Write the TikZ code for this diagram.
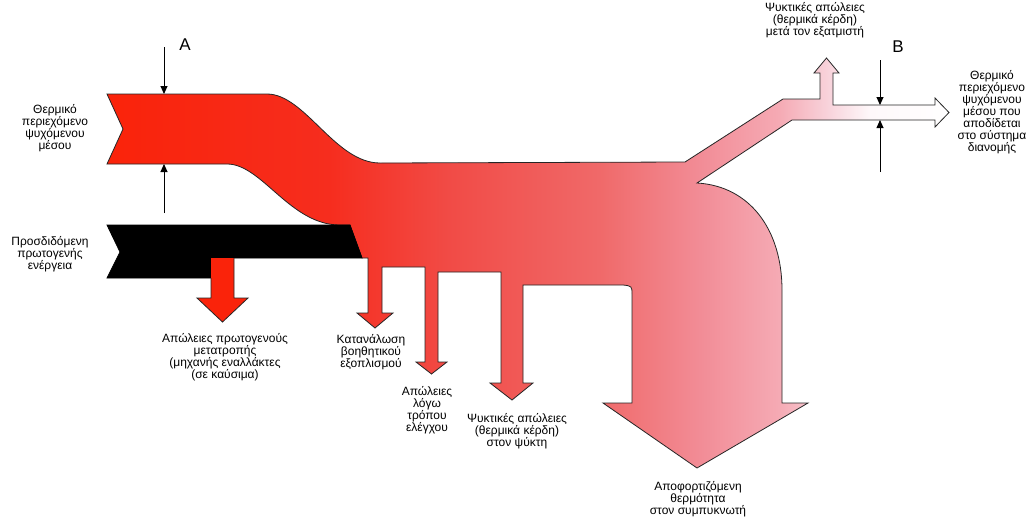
\documentclass[tikz,border=0pt]{standalone}
\usepackage{fontspec}
\setmainfont{Liberation Sans}
\usetikzlibrary{arrows.meta}
\definecolor{c0}{RGB}{250,35,10}
\definecolor{c1}{RGB}{246,45,30}
\definecolor{c2}{RGB}{241,75,70}
\definecolor{c3}{RGB}{240,105,105}
\definecolor{c4}{RGB}{242,140,150}
\definecolor{c5}{RGB}{245,170,180}
\definecolor{c6}{RGB}{248,212,220}
\definecolor{c7}{RGB}{254,248,250}
\pgfdeclarehorizontalshading{flowshade}{100bp}{color(0bp)=(c0); color(25bp)=(c0); color(38.2bp)=(c1); color(45.3bp)=(c2); color(54.2bp)=(c3); color(60.2bp)=(c4); color(64.9bp)=(c5); color(67.9bp)=(c6); color(70.3bp)=(c7); color(75bp)=(white); color(100bp)=(white)}
\begin{document}
\begin{tikzpicture}[x=1pt,y=-1pt,
  lbl/.style={align=center, font=\fontsize{12}{12}\selectfont, inner sep=0pt},
  letter/.style={font=\fontsize{17}{17}\selectfont, inner sep=0pt},
  marker/.style={line width=0.9pt, -{Triangle[length=8pt,width=7pt]}},
  outline/.style={draw=black!85, line width=0.8pt, line join=miter}]
\useasboundingbox[fill=white] (0,0) rectangle (1029,523);

% main flow (red -> pink -> white)
\path[outline, shading=flowshade]
  (107,94) -- (267,94) .. controls (305,94) and (335,163) .. (380,163)
  -- (685,162) -- (783,99) -- (820,99)
  -- (820,73) -- (814,73) -- (826.5,58) -- (839,73) -- (833,73) -- (833,105)
  -- (935,105) -- (935,98) -- (949,112.5) -- (935,127) -- (935,120)
  -- (792,120) -- (697,183) .. controls (750,186) and (782,230) .. (782,290)
  -- (782,403) -- (808,403) -- (697,468) -- (603,403) -- (632,403)
  -- (632,295) .. controls (632,286) .. (623,285)
  -- (523,285) -- (523,383) -- (533,383) -- (512,400) -- (490,383) -- (501,383)
  -- (501,272) -- (438,272) -- (438,362) -- (447,362) -- (431.5,374) -- (416,362) -- (425,362)
  -- (425,267) -- (382,267) -- (382,313) -- (393,313) -- (375,328) -- (357,313) -- (368,313)
  -- (368,258) -- (362,258) -- (350,225) -- (340,225)
  .. controls (290,225) and (262,164) .. (227,164)
  -- (107,164) -- (123,129) -- cycle;

% primary energy (black band)
\path[draw=black, fill=black, line width=0.8pt]
  (107,225) -- (350,225) -- (362,258) -- (211,258) -- (211,278) -- (107,278) -- (120,252) -- cycle;

% primary conversion loss arrow
\fill[c0] (211,258) -- (211,298) -- (197,298) -- (222.5,322) -- (248,298) -- (234,298) -- (234,258) -- cycle;
\draw[black!85, line width=0.8pt] (211,278) -- (211,298) -- (197,298) -- (222.5,322) -- (248,298) -- (234,298) -- (234,258);

% labels
\node[lbl] (tin) at (55,128) {Θερμικό\\περιεχόμενο\\ψυχόμενου\\μέσου};
\node[lbl] (ein) at (50,254) {Προσδιδόμενη\\πρωτογενής\\ενέργεια};
\node[lbl] (lconv) at (225,357) {Απώλειες πρωτογενούς\\μετατροπής\\(μηχανής εναλλάκτες\\(σε καύσιμα)};
\node[lbl] (aux) at (371,352) {Κατανάλωση\\βοηθητικού\\εξοπλισμού};
\node[lbl] (ctrl) at (427,410) {Απώλειες\\λόγω\\τρόπου\\ελέγχου};
\node[lbl] (cool) at (517,431) {Ψυκτικές απώλειες\\(θερμικά κέρδη)\\στον ψύκτη};
\node[lbl] (cond) at (698,499) {Αποφορτιζόμενη\\θερμότητα\\στον συμπυκνωτή};
\node[lbl] (evap) at (815,20) {Ψυκτικές απώλειες\\(θερμικά κέρδη)\\μετά τον εξατμιστή};
\node[lbl] (tout) at (992,112) {Θερμικό\\περιεχόμενο\\ψυχόμενου\\μέσου που\\αποδίδεται\\στο σύστημα\\διανομής};

% section markers
\node[letter] (la) at (185,45) {A};
\node[letter] (lb) at (898,47) {B};
\coordinate (a1) at (164,47);  \coordinate (a2) at (164,94);
\coordinate (a3) at (164,213); \coordinate (a4) at (164,164);
\coordinate (b1) at (880,60);  \coordinate (b2) at (880,105);
\coordinate (b3) at (880,172); \coordinate (b4) at (880,120);
\draw[marker] (a1) -- (a2);
\draw[marker] (a3) -- (a4);
\draw[marker] (b1) -- (b2);
\draw[marker] (b3) -- (b4);
\end{tikzpicture}
\end{document}
